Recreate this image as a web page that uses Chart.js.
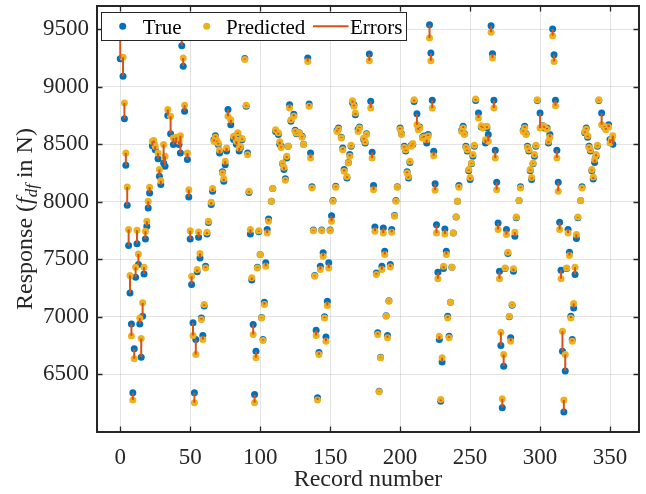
<!DOCTYPE html>
<html>
<head>
<meta charset="utf-8">
<script src="https://cdn.jsdelivr.net/npm/chart.js@4.4.1/dist/chart.umd.min.js"></script>
<style>
html, body { margin: 0; padding: 0; background: #fff; }
</style>
</head>
<body>
<canvas id="myChart" width="646" height="494"></canvas>
<script>
// record numbers, true and predicted force (N), one line per cycle
const recordNo = [
    0,2,3,4,5,6,7,8,9,10,11,12,13,14,15,16,17,18,19,20,21,23,24,25,27,28,29,31,32,34,36,38,40,42,43,
    44,45,46,48,49,50,51,52,53,54,55,56,57,58,59,60,61,62,63,65,66,67,68,69,70,71,73,74,75,76,77,79,81,83,84,85,86,87,
    88,89,90,91,92,93,94,95,96,97,98,99,100,101,102,103,104,105,106,108,109,111,113,114,115,116,117,118,119,120,121,122,124,125,126,128,130,131,
    133,134,135,136,137,138,139,140,141,142,143,144,145,146,147,148,149,150,151,152,154,155,156,158,159,160,162,163,164,165,166,167,168,170,171,174,175,176,
    177,178,179,180,181,182,183,184,185,186,187,188,189,190,191,192,193,194,196,197,198,200,201,203,204,205,206,207,208,209,210,212,213,214,216,217,219,220,
    221,222,223,224,225,226,227,228,229,230,231,232,233,234,235,236,237,238,240,241,242,244,245,246,247,248,249,250,251,252,253,254,256,258,259,261,262,263,
    265,266,267,268,269,270,271,272,273,274,275,276,277,278,279,280,281,282,283,285,286,288,289,290,291,292,293,294,295,296,297,298,300,302,303,305,306,307,
    309,310,311,312,313,314,315,316,317,318,319,320,321,322,323,324,325,326,327,329,330,332,333,334,335,336,337,338,339,340,341,342,344,346,347,349,350,351,352
];
const trueForce = [
    9242,9089,8721,8317,7970,7619,7208,6939,6340,6722,7344,7634,7454,6939,6650,7006,7373,7677,7787,7946,8076,8487,8510,8452,8374,8221,8149,8337,8308,8748,8591,8496,8510,8496,8423,
    9355,9176,8785,8366,8041,7677,7281,6948,6340,6803,7391,7692,7512,6991,6838,7095,7440,7720,7820,7975,8091,8540,8574,8520,8496,8424,8260,8178,8322,8440,8800,8669,8540,8500,8588,8440,8470,8539,
    9520,9245,8830,8424,8080,7720,7320,6934,6326,6702,7430,7740,7541,6995,6803,7128,7469,7758,7851,8004,8114,8610,8583,8500,8481,8330,8279,8200,8380,8481,8843,8700,8760,8620,8590,8600,8568,8500,
    9525,9248,8849,8424,8130,7755,7360,6884,6297,6690,7440,7755,7556,7000,6826,7136,7469,7755,7879,8010,8135,8620,8640,8560,8467,8280,8207,8340,8410,8481,8860,8843,8756,8630,8650,8540,8510,8590,
    9530,9283,8872,8429,8140,7781,7380,6861,6355,6650,7440,7772,7570,7010,6838,7140,7454,7758,7880,8010,8130,8640,8590,8481,8440,8260,8207,8340,8490,8496,8870,8765,8640,8650,8560,8570,8510,8583,
    9537,9291,8881,8438,8157,7801,7388,6803,6268,6607,7420,7764,7570,7006,6832,7128,7431,7729,7868,8004,8140,8620,8655,8590,8481,8440,8270,8192,8330,8394,8481,8880,8771,8650,8650,8510,8640,8583,
    9529,9285,8881,8447,8169,7816,7396,6751,6210,6572,7420,7758,7550,7000,6818,7100,7396,7700,7860,8010,8130,8620,8655,8590,8481,8440,8270,8192,8330,8394,8481,8880,8771,8660,8640,8640,8510,8583,
    9500,9277,8881,8447,8169,7822,7405,6702,6173,6529,7420,7758,7561,7006,6803,7078,7367,7680,7860,8010,8130,8600,8640,8560,8481,8440,8270,8198,8340,8394,8481,8880,8771,8650,8640,8669,8540,8525,8500
];
const predForce = [
    9560,9254,8858,8424,8128,7758,7359,6833,6277,6636,7431,7752,7547,6991,6812,7122,7431,7744,7830,8004,8125,8525,8531,8481,8424,8279,8183,8496,8395,8800,8742,8554,8560,8525,8574,
    9560,9248,8837,8424,8105,7749,7353,6838,6254,6673,7411,7738,7550,6977,6803,7107,7425,7735,7830,7995,8114,8525,8560,8530,8510,8450,8250,8200,8351,8467,8742,8713,8568,8525,8600,8467,8481,8550,
    9470,9235,8837,8409,8091,7758,7339,6847,6254,6644,7425,7749,7541,6991,6795,7107,7440,7729,7830,8004,8114,8626,8600,8520,8470,8337,8300,8186,8394,8481,8814,8713,8742,8610,8597,8597,8560,8496,
    9480,9219,8829,8380,8120,7749,7353,6838,6277,6673,7411,7749,7527,6991,6789,7099,7425,7749,7830,8004,8125,8611,8630,8554,8452,8264,8220,8337,8394,8490,8878,8829,8770,8611,8640,8554,8520,8583,
    9480,9225,8814,8380,8105,7744,7367,6847,6350,6644,7411,7729,7541,7006,6818,7136,7433,7735,7874,8004,8125,8630,8583,8470,8452,8250,8220,8351,8481,8505,8886,8669,8626,8640,8554,8560,8539,8570,
    9422,9225,8814,8400,8100,7729,7330,6832,6283,6644,7440,7720,7541,6991,6818,7128,7431,7729,7868,8004,8125,8611,8640,8583,8470,8452,8279,8210,8337,8410,8490,8892,8727,8660,8640,8539,8655,8525,
    9471,9248,8814,8380,8105,7758,7330,6867,6288,6673,7425,7715,7561,7006,6789,7107,7417,7735,7868,8010,8120,8611,8640,8583,8470,8452,8279,8210,8337,8410,8490,8886,8640,8655,8655,8630,8525,8560,
    9442,9219,8834,8380,8091,7758,7330,6876,6277,6673,7425,7729,7532,6991,6789,7116,7431,7715,7868,8010,8120,8611,8630,8574,8470,8452,8279,8215,8366,8410,8490,8886,8669,8655,8626,8650,8510,8540,8574
];

const xTicks = [0, 50, 100, 150, 200, 250, 300, 350];
const yTicks = [6500, 7000, 7500, 8000, 8500, 9000, 9500];
const legendLabels = ["True", "Predicted", "Errors"];

const C_TRUE = "#0072BD";
const C_PRED = "#EDB120";
const C_ERR = "#D95319";
const INK = "#262626";
const FONT = "'Liberation Serif', 'Times New Roman', serif";

Chart.defaults.font.family = FONT;

let truePts = recordNo.map((r, i) => ({ x: r, y: trueForce[i] }));
let predPts = recordNo.map((r, i) => ({ x: r, y: predForce[i] }));
// error segments true -> predicted, separated by gaps
let errPts = [];
for (let i = 0; i < recordNo.length; i++) {
    errPts.push({ x: recordNo[i], y: trueForce[i] });
    errPts.push({ x: recordNo[i], y: predForce[i] });
    errPts.push({ x: recordNo[i], y: null });
}

// box, inward ticks, legend inside the axes
const axesFrame = {
    id: "axesFrame",
    afterDatasetsDraw(chart) {
        const ctx = chart.ctx;
        const a = chart.chartArea;
        const x = chart.scales.x, y = chart.scales.y;
        ctx.save();
        ctx.strokeStyle = INK;
        ctx.lineWidth = 1.3;
        ctx.beginPath();
        xTicks.forEach(v => {
            let px = Math.round(x.getPixelForValue(v)) + 0.5;
            ctx.moveTo(px, a.bottom); ctx.lineTo(px, a.bottom - 5.5);
            ctx.moveTo(px, a.top); ctx.lineTo(px, a.top + 5.5);
        });
        yTicks.forEach(v => {
            let py = Math.round(y.getPixelForValue(v)) + 0.5;
            ctx.moveTo(a.left, py); ctx.lineTo(a.left + 5.5, py);
            ctx.moveTo(a.right, py); ctx.lineTo(a.right - 5.5, py);
        });
        ctx.stroke();
        ctx.lineWidth = 2;
        ctx.strokeRect(a.left, a.top, a.right - a.left, a.bottom - a.top);

        // legend
        const lx = 101.5, ly = 12.5, lw = 305, lh = 28, cy = 26.3;
        ctx.fillStyle = "#fff";
        ctx.fillRect(lx, ly, lw, lh);
        ctx.lineWidth = 1;
        ctx.strokeStyle = INK;
        ctx.strokeRect(lx, ly, lw, lh);
        ctx.fillStyle = C_TRUE;
        ctx.beginPath(); ctx.arc(122.7, cy, 3.5, 0, Math.PI * 2); ctx.fill();
        ctx.fillStyle = C_PRED;
        ctx.beginPath(); ctx.arc(206.7, cy, 3.5, 0, Math.PI * 2); ctx.fill();
        ctx.strokeStyle = C_ERR;
        ctx.lineWidth = 2;
        ctx.beginPath(); ctx.moveTo(313, cy); ctx.lineTo(348.5, cy); ctx.stroke();
        ctx.fillStyle = "#000";
        ctx.font = "21px " + FONT;
        ctx.textBaseline = "alphabetic";
        ctx.textAlign = "left";
        ctx.fillText(legendLabels[0], 142.7, 34);
        ctx.fillText(legendLabels[1], 226, 34);
        ctx.fillText(legendLabels[2], 350, 34);
        ctx.restore();
    },
    afterDraw(chart) {
        // y label with italic subscript
        const ctx = chart.ctx;
        const a = chart.chartArea;
        const size = 24;
        const parts = [
            { t: "Response (", f: size + "px " + FONT, dy: 0 },
            { t: "f", f: "italic " + size + "px " + FONT, dy: 0 },
            { t: "df", f: "italic " + Math.round(size * 0.72) + "px " + FONT, dy: 5 },
            { t: " in N)", f: size + "px " + FONT, dy: 0 }
        ];
        ctx.save();
        let total = 0;
        parts.forEach(p => { ctx.font = p.f; p.w = ctx.measureText(p.t).width; total += p.w; });
        ctx.translate(32, (a.top + a.bottom) / 2);
        ctx.rotate(-Math.PI / 2);
        ctx.fillStyle = INK;
        ctx.textBaseline = "alphabetic";
        ctx.textAlign = "left";
        let cx = -total / 2;
        parts.forEach(p => { ctx.font = p.f; ctx.fillText(p.t, cx, p.dy); cx += p.w; });
        ctx.restore();
    }
};

let chart = new Chart("myChart", {
    type: "scatter",
    data: {
        datasets: [{
            type: "line",
            label: legendLabels[2],
            data: errPts,
            showLine: true,
            spanGaps: false,
            borderColor: C_ERR,
            borderWidth: 2,
            pointRadius: 0,
            order: 0
        }, {
            label: legendLabels[1],
            data: predPts,
            backgroundColor: C_PRED,
            borderWidth: 0,
            pointRadius: 3.5,
            order: 1
        }, {
            label: legendLabels[0],
            data: truePts,
            backgroundColor: C_TRUE,
            borderWidth: 0,
            pointRadius: 3.5,
            order: 2
        }]
    },
    options: {
        responsive: false,
        devicePixelRatio: 1,
        animation: false,
        layout: { padding: { top: 6, right: 7, left: 0, bottom: 0 } },
        plugins: {
            legend: { display: false },
            tooltip: { enabled: false }
        },
        scales: {
            x: {
                type: "linear",
                min: -16.6,
                max: 370.7,
                afterBuildTicks: s => { s.ticks = xTicks.map(v => ({ value: v })); },
                afterFit: s => { s.height = 62; s.paddingLeft = 0; s.paddingRight = 0; },
                ticks: { color: INK, font: { size: 23 }, padding: 12, maxRotation: 0, autoSkip: false,
                         callback: v => String(v) },
                grid: { color: "rgba(38,38,38,0.13)", drawTicks: false },
                border: { display: false },
                title: { display: true, text: "Record number", color: INK, font: { size: 24 }, padding: 0 }
            },
            y: {
                min: 6000,
                max: 9700,
                afterBuildTicks: s => { s.ticks = yTicks.map(v => ({ value: v })); },
                afterFit: s => { s.width = 97; s.paddingTop = 0; s.paddingBottom = 0; },
                ticks: { color: INK, font: { size: 23 }, padding: 8, callback: v => String(v) },
                grid: { color: "rgba(38,38,38,0.13)", drawTicks: false },
                border: { display: false }
            }
        }
    },
    plugins: [axesFrame]
});
</script>
</body>
</html>
